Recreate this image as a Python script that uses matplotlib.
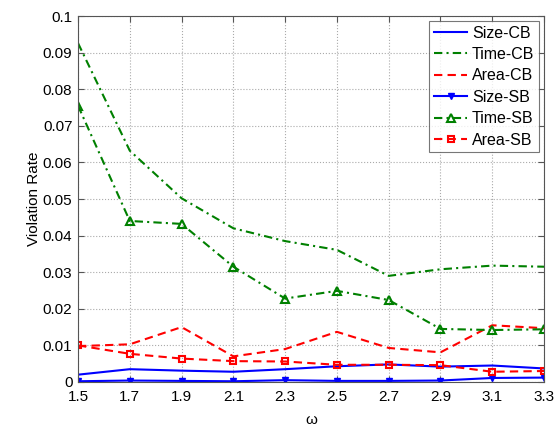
import matplotlib
matplotlib.use("Agg")
import matplotlib.pyplot as plt

plt.rcParams['font.family'] = ['Liberation Sans', 'DejaVu Sans']

omega = [1.5, 1.7, 1.9, 2.1, 2.3, 2.5, 2.7, 2.9, 3.1, 3.3]
xticks = [1.5, 1.7, 1.9, 2.1, 2.3, 2.5, 2.7, 2.9, 3.1, 3.3]
yticks = [0, 0.01, 0.02, 0.03, 0.04, 0.05, 0.06, 0.07, 0.08, 0.09, 0.1]
ytick_labels = ['0', '0.01', '0.02', '0.03', '0.04', '0.05', '0.06', '0.07', '0.08', '0.09', '0.1']

size_cb = [0.0020, 0.0035, 0.0031, 0.0028, 0.0035, 0.0043, 0.0048, 0.0042, 0.0045, 0.0037]
time_cb = [0.0926, 0.0632, 0.0502, 0.0420, 0.0385, 0.0361, 0.0290, 0.0308, 0.0318, 0.0315]
area_cb = [0.0098, 0.0103, 0.0150, 0.0070, 0.0090, 0.0137, 0.0093, 0.0081, 0.0155, 0.0147]
size_sb = [0.0002, 0.0004, 0.0003, 0.0002, 0.0005, 0.0003, 0.0003, 0.0004, 0.0011, 0.0012]
time_sb = [0.0755, 0.0440, 0.0432, 0.0315, 0.0228, 0.0249, 0.0224, 0.0145, 0.0142, 0.0144]
area_sb = [0.0100, 0.0077, 0.0064, 0.0057, 0.0056, 0.0047, 0.0047, 0.0046, 0.0028, 0.0030]

fig = plt.figure(figsize=(5.58, 4.26), dpi=100)
ax = fig.add_axes([0.1398, 0.1033, 0.975 - 0.1398, 0.9624 - 0.1033])

blue = '#0000ff'
green = '#008000'
red = '#ff0000'
lw = 1.5
dash = (0, (4, 2.5))
dashdot = (0, (4, 2, 1, 2))
ax.plot(omega, size_cb, color=blue, linestyle='-', linewidth=lw, label='Size-CB')
ax.plot(omega, time_cb, color=green, linestyle=dashdot, linewidth=lw, label='Time-CB')
ax.plot(omega, area_cb, color=red, linestyle=dash, linewidth=lw, label='Area-CB')
ax.plot(omega, size_sb, color=blue, linestyle='-', linewidth=lw, marker='v',
        markersize=5, markerfacecolor=blue, label='Size-SB')
ax.plot(omega, time_sb, color=green, linestyle=dashdot, linewidth=lw, marker='^',
        markersize=5.5, markerfacecolor='none', markeredgewidth=1.5, label='Time-SB')
ax.plot(omega, area_sb, color=red, linestyle=dash, linewidth=lw, marker='s',
        markersize=5, markerfacecolor='none', markeredgewidth=1.5, label='Area-SB')

ax.set_xlim(1.5, 3.3)
ax.set_ylim(0, 0.1)
ax.set_xticks(xticks)
ax.set_xticklabels([f'{v:.1f}' for v in xticks])
ax.set_yticks(yticks)
ax.set_yticklabels(ytick_labels)
ax.tick_params(direction='in', top=True, right=True, labelsize=11, length=4, color='#555555')
ax.tick_params(axis='x', pad=6)
ax.tick_params(axis='y', pad=4)
ax.grid(True, linestyle=':', color='#aaaaaa', linewidth=0.8)
for s in ax.spines.values():
    s.set_color('#555555')
ax.set_xlabel('ω', fontsize=11, labelpad=6)
ax.set_ylabel('Violation Rate', fontsize=11, labelpad=1)

leg = ax.legend(loc='upper right', fontsize=11.5, frameon=True, fancybox=False,
                edgecolor='#555555', borderpad=0.3, labelspacing=0.4,
                handlelength=2.1, handletextpad=0.3, borderaxespad=0.3)
leg.get_frame().set_linewidth(0.8)

fig.savefig('out.png', dpi=100)
